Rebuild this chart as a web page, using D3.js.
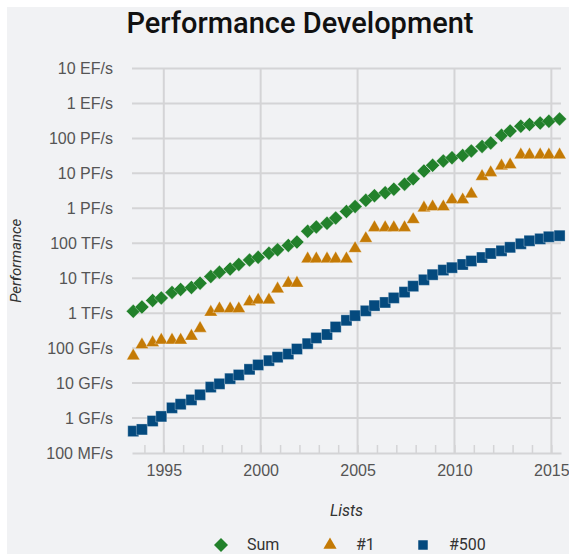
<!DOCTYPE html>
<html>
<head>
<meta charset="utf-8">
<script src="https://cdn.jsdelivr.net/npm/d3@7"></script>
<style>
  body { margin: 0; background: #fff; }
  svg { display: block; font-family: Roboto, "Noto Sans", sans-serif; }
</style>
</head>
<body>
<svg width="569" height="554"></svg>
<script>
// list dates (June / November TOP500 lists)
var listDates = ["1993-06","1993-11","1994-06","1994-11","1995-06","1995-11","1996-06","1996-11",
  "1997-06","1997-11","1998-06","1998-11","1999-06","1999-11","2000-06","2000-11",
  "2001-06","2001-11","2002-06","2002-11","2003-06","2003-11","2004-06","2004-11",
  "2005-06","2005-11","2006-06","2006-11","2007-06","2007-11","2008-06","2008-11",
  "2009-06","2009-11","2010-06","2010-11","2011-06","2011-11","2012-06","2012-11",
  "2013-06","2013-11","2014-06","2014-11","2015-06"];

// performance values in GFlop/s
var sumValues = [1128.6,1493.4,2317,2732,3927,4784,5453,7231,
  11140,14840,18490,24810,33100,39670,51790,64950,
  87000,108400,220200,293100,373900,528000,813000,1127000,
  1690000,2300000,2790000,3540000,4920000,6970000,11700000,16950000,
  22600000,27950000,32400000,43700000,58900000,74200000,123000000,162000000,
  223000000,250000000,274000000,309000000,361000000];

var firstValues = [59.7,124.5,143.4,170,170,170,220.4,368.2,
  1068,1338,1338,1338,2121,2379,2379,4938,
  7226,7226,35860,35860,35860,35860,35860,70720,
  136800,280600,280600,280600,280600,478200,1026000,1105000,
  1105000,1759000,1759000,2566000,8162000,10510000,16320000,17590000,
  33860000,33860000,33860000,33860000,33860000];

var lastValues = [0.422,0.472,0.822,1.114,1.955,2.489,3.306,4.62,
  7.68,9.513,13.38,17.1,24.73,33.08,43.82,55.1,
  67.78,94.3,134.3,195.8,245.1,403.4,624,850.6,
  1166,1646,2026,2737,4005,5929,9000,12640,
  17090,20050,24670,31120,39090,50940,60820,76500,
  96620,117800,133700,153400,164800];

var yTickValues = [0.1,1,10,100,1e3,1e4,1e5,1e6,1e7,1e8,1e9,1e10];
var yTickLabels = ["100 MF/s","1 GF/s","10 GF/s","100 GF/s","1 TF/s","10 TF/s","100 TF/s",
  "1 PF/s","10 PF/s","100 PF/s","1 EF/s","10 EF/s"];

var seriesNames = ["Sum", "#1", "#500"];
var seriesColors = ["#22812b", "#c47a05", "#044a7e"];

var margin = {top: 68.5, right: 8, bottom: 101, left: 132},
    width = 569 - margin.left - margin.right,
    height = 554 - margin.top - margin.bottom;

var svg = d3.select("svg");

svg.append("rect")
  .attr("x", 7).attr("y", 7)
  .attr("width", 562).attr("height", 547)
  .attr("fill", "#f1f2f4");

var parse = d3.timeParse("%Y-%m");
var dates = listDates.map(function(s) {
  var d = parse(s);
  d.setDate(d.getMonth() == 5 ? 5 : 15);
  return d;
});

var x = d3.scaleTime()
  .domain([new Date(1993, 4, 12), new Date(2015, 6, 2)])
  .range([0, width]);

var y = d3.scaleLog()
  .domain([0.1, 1e10])
  .range([height, 0]);

var g = svg.append("g")
  .attr("transform", "translate(" + margin.left + "," + margin.top + ")");

// horizontal grid
g.selectAll(".hgrid")
  .data(yTickValues.slice(1))
  .enter().append("line")
  .attr("x1", 0).attr("x2", width)
  .attr("y1", function(d) { return y(d); })
  .attr("y2", function(d) { return y(d); })
  .attr("stroke", "#d4d4d6")
  .attr("stroke-width", 2);

// vertical grid every 5 years
var majorYears = [1995, 2000, 2005, 2010, 2015].map(function(yr) { return new Date(yr, 0, 1); });
g.selectAll(".vgrid")
  .data(majorYears)
  .enter().append("line")
  .attr("x1", function(d) { return x(d); })
  .attr("x2", function(d) { return x(d); })
  .attr("y1", 0).attr("y2", height)
  .attr("stroke", "#d4d4d6")
  .attr("stroke-width", 2);

// x axis: yearly ticks pointing up, labels every 5 years
var xAxis = d3.axisBottom(x)
  .ticks(d3.timeYear.every(1))
  .tickSizeInner(-8)
  .tickSizeOuter(0)
  .tickFormat(function(d) { return d.getFullYear() % 5 == 0 ? d.getFullYear() : ""; });

var xg = g.append("g")
  .attr("transform", "translate(0," + height + ")")
  .call(xAxis);
xg.select(".domain").attr("stroke", "#d4d4d6").attr("stroke-width", 2);
xg.selectAll(".tick line").attr("stroke", "#d4d4d6").attr("stroke-width", 1.5);
xg.selectAll(".tick text")
  .attr("y", 12).attr("dy", "0.71em")
  .attr("fill", "#555").style("font-size", "16px");

// y axis labels
var yg = g.append("g")
  .call(d3.axisLeft(y).tickValues(yTickValues)
    .tickSize(0).tickPadding(19)
    .tickFormat(function(d, i) { return yTickLabels[i]; }));
yg.select(".domain").remove();
yg.selectAll(".tick text")
  .attr("fill", "#555").style("font-size", "16px");

// series
var series = [sumValues, firstValues, lastValues];
var symbols = [d3.symbolSquare, d3.symbolTriangle, d3.symbolSquare];
var sizes = [98, 75, 121];

series.forEach(function(vals, si) {
  var sym = d3.symbol().type(symbols[si]).size(sizes[si]);
  g.append("g").selectAll("path")
    .data(vals)
    .enter().append("path")
    .attr("transform", function(d, i) {
      return "translate(" + x(dates[i]) + "," + y(d) + ")" + (si == 0 ? " rotate(45)" : "");
    })
    .attr("d", sym)
    .attr("fill", seriesColors[si])
    .attr("stroke", "#ffffff")
    .attr("stroke-opacity", 0.5)
    .attr("stroke-width", 0.6);
});

// title
svg.append("text")
  .attr("x", 300).attr("y", 33)
  .attr("text-anchor", "middle")
  .style("font-size", "29px").style("font-weight", "500")
  .attr("fill", "#111")
  .text("Performance Development");

// axis titles
svg.append("text")
  .attr("transform", "translate(21," + (margin.top + height / 2) + ") rotate(-90)")
  .attr("text-anchor", "middle")
  .style("font-size", "15px").style("font-style", "italic")
  .attr("fill", "#333")
  .text("Performance");

svg.append("text")
  .attr("x", margin.left + width / 2).attr("y", 516)
  .attr("text-anchor", "middle")
  .style("font-size", "16px").style("font-style", "italic")
  .attr("fill", "#333")
  .text("Lists");

// legend
var legendX = [221, 330, 423];
var legend = svg.append("g");
seriesNames.forEach(function(name, i) {
  var sym = d3.symbol().type(symbols[i]).size(i == 0 ? 98 : (i == 1 ? 75 : 90));
  legend.append("path")
    .attr("transform", "translate(" + legendX[i] + ",545)" + (i == 0 ? " rotate(45)" : ""))
    .attr("d", sym)
    .attr("fill", seriesColors[i]);
  legend.append("text")
    .attr("x", legendX[i] + 26).attr("y", 550)
    .style("font-size", "16px")
    .attr("fill", "#333")
    .text(name);
});
</script>
</body>
</html>
